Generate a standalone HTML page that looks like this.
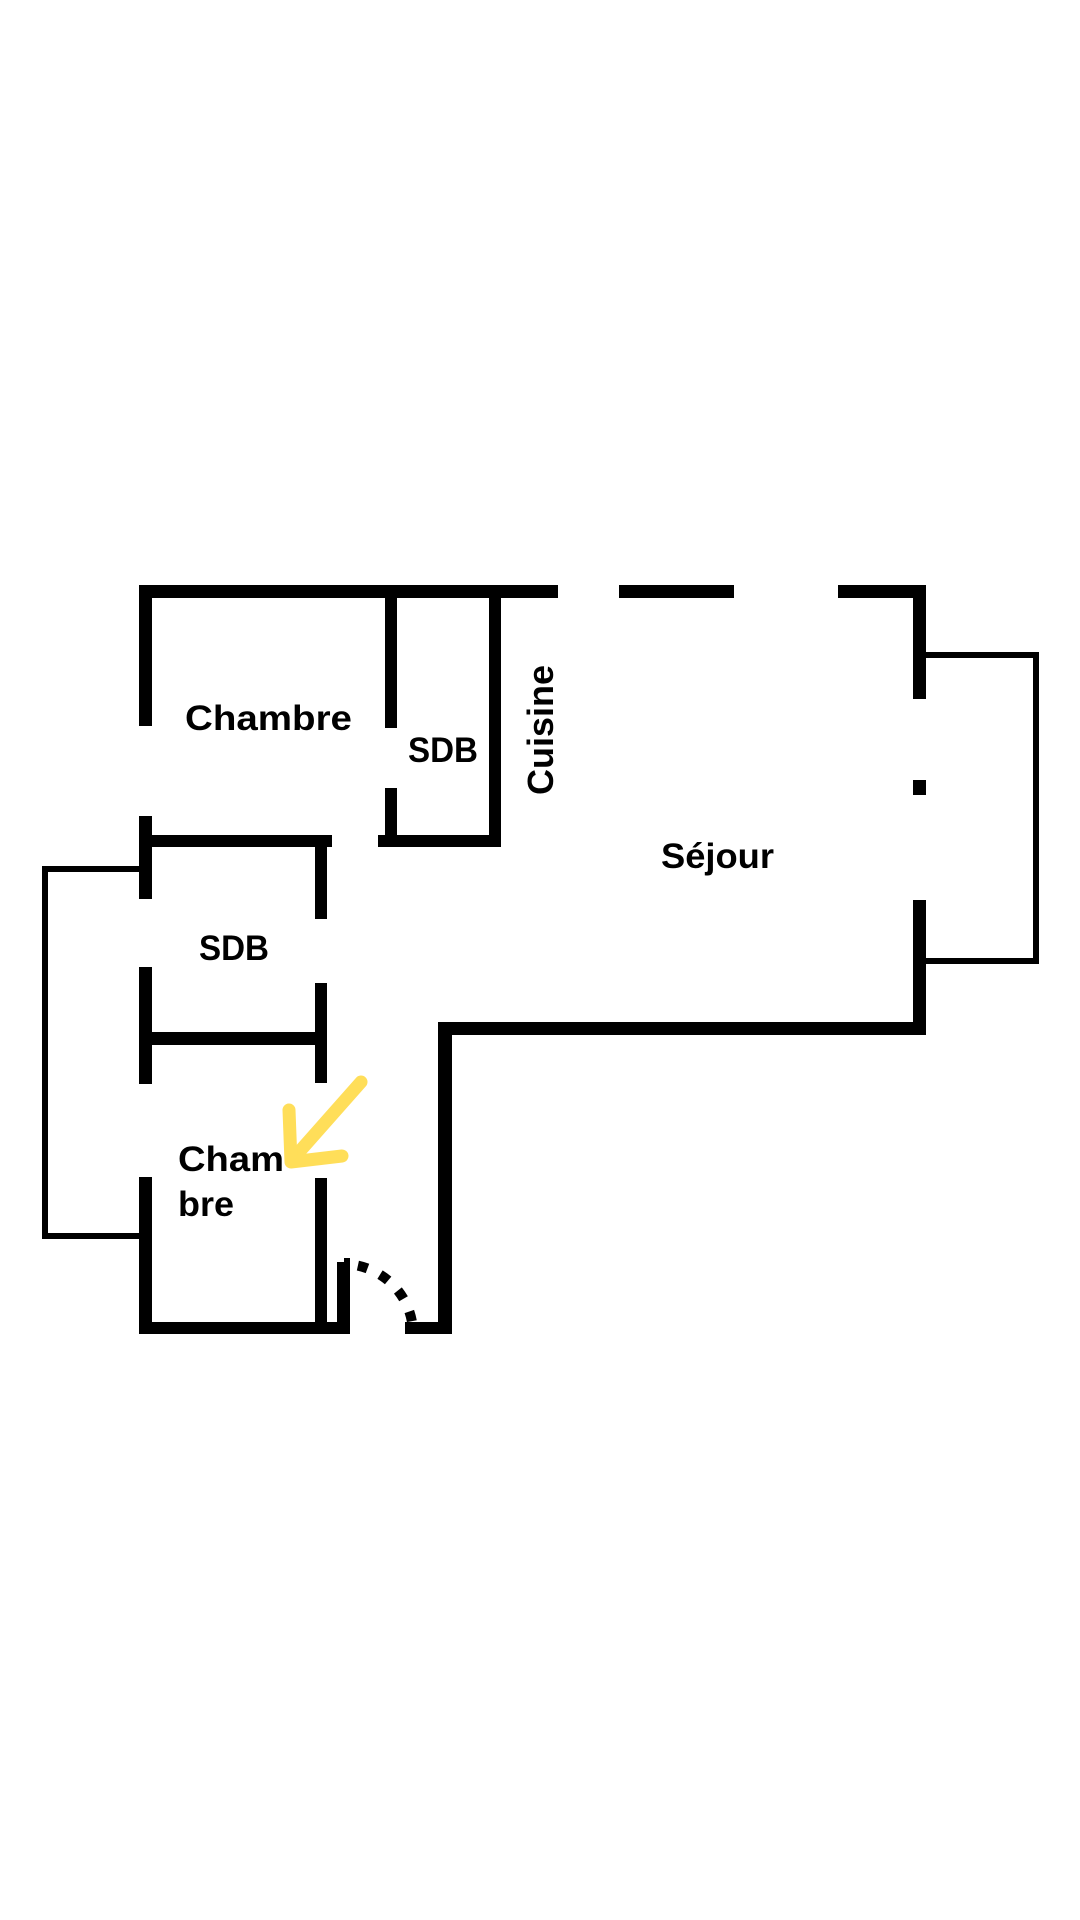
<!DOCTYPE html>
<html><head><meta charset="utf-8"><style>
html,body{margin:0;padding:0;background:#fff;}
svg{display:block;}
text{font-family:"Liberation Sans",sans-serif;font-weight:700;fill:#000;}
</style></head><body>
<svg width="1080" height="1920" viewBox="0 0 1080 1920" xmlns="http://www.w3.org/2000/svg">
<rect width="1080" height="1920" fill="#fff"/>
<g fill="#000">
<!-- top wall -->
<rect x="139" y="585" width="419" height="13"/>
<rect x="619" y="585" width="115" height="13"/>
<rect x="838" y="585" width="88" height="13"/>
<!-- top-left chambre left wall -->
<rect x="139" y="585" width="13" height="141"/>
<!-- wall between chambre & SDB -->
<rect x="385" y="598" width="12" height="130"/>
<rect x="385" y="788" width="12" height="59"/>
<rect x="378" y="835" width="123" height="12"/>
<rect x="489" y="598" width="12" height="249"/>
<!-- right wall -->
<rect x="913" y="585" width="13" height="114"/>
<rect x="913" y="780" width="13" height="15"/>
<rect x="913" y="900" width="13" height="135"/>
<rect x="438" y="1022" width="488" height="13"/>
<rect x="438" y="1022" width="14" height="312"/>
<!-- thin right balcony -->
<rect x="926" y="652" width="113" height="6"/>
<rect x="1033" y="652" width="6" height="312"/>
<rect x="926" y="958" width="113" height="6"/>
<!-- left SDB -->
<rect x="139" y="816" width="13" height="83"/>
<rect x="152" y="835" width="180" height="12"/>
<rect x="315" y="847" width="12" height="72"/>
<rect x="139" y="967" width="13" height="117"/>
<rect x="315" y="983" width="12" height="100"/>
<rect x="152" y="1032" width="163" height="13"/>
<!-- bottom chambre -->
<rect x="139" y="1177" width="13" height="157"/>
<rect x="315" y="1178" width="12" height="156"/>
<rect x="139" y="1322" width="211" height="12"/>
<rect x="337" y="1262" width="13" height="72"/>
<rect x="344" y="1258" width="6" height="6"/>
<rect x="405" y="1322" width="47" height="12"/>
<!-- thin left -->
<rect x="42" y="866" width="97" height="6"/>
<rect x="42" y="866" width="6" height="373"/>
<rect x="42" y="1233" width="97" height="6"/>
</g>
<!-- door arc dots -->
<path d="M 344 1264 A 70 70 0 0 1 412 1322" fill="none" stroke="#000" stroke-width="10" stroke-dasharray="0 14 10 14 10 14 10 14 10 30"/>
<!-- yellow arrow -->
<g stroke="#FFDE59" stroke-width="13" stroke-linecap="round" stroke-linejoin="round" fill="none">
<line x1="361" y1="1082" x2="292" y2="1160"/>
<polyline points="289,1110 291,1162 342,1156"/>
</g>
<text x="185" y="730" font-size="35" textLength="167" lengthAdjust="spacingAndGlyphs">Chambre</text>
<text x="408" y="762" font-size="35" textLength="70" lengthAdjust="spacingAndGlyphs">SDB</text>
<text transform="translate(553,795) rotate(-90)" font-size="36" textLength="130" lengthAdjust="spacingAndGlyphs">Cuisine</text>
<text x="661" y="868" font-size="35" textLength="113" lengthAdjust="spacingAndGlyphs">Séjour</text>
<text x="199" y="960" font-size="35" textLength="70" lengthAdjust="spacingAndGlyphs">SDB</text>
<text x="178" y="1171" font-size="35" textLength="106" lengthAdjust="spacingAndGlyphs">Cham</text>
<text x="178" y="1216" font-size="35" textLength="56" lengthAdjust="spacingAndGlyphs">bre</text>
</svg>
</body></html>
